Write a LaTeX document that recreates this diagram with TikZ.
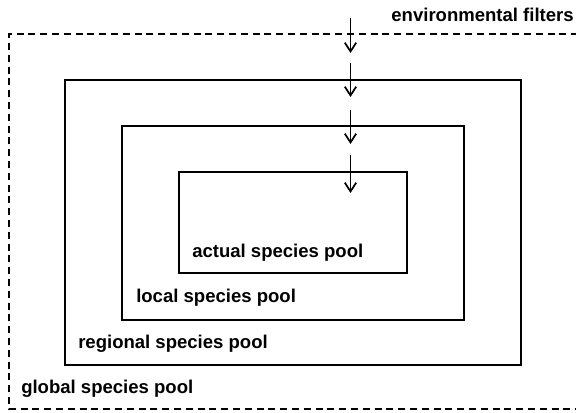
\documentclass[tikz,border=0pt]{standalone}
\usepackage{fontspec}
\setmainfont{Liberation Sans}
\usepackage{tikz}
\usetikzlibrary{positioning,arrows.meta}

\begin{document}
\begin{tikzpicture}[
  x=0.75pt, y=-0.75pt,
  pool/.style={draw, line width=1.2pt},
  lbl/.style={font=\bfseries\fontsize{13.9}{15}\selectfont, anchor=base west, inner sep=0pt},
  filt/.style={-{Straight Barb[length=2.3mm, width=3mm]}, line width=1.3pt},
  glob/.style={draw, line width=1.2pt, dash pattern=on 5.25pt off 3.6pt}
]
\useasboundingbox (0,0) rectangle (576,412);
\clip (0,0) rectangle (576,412);
% nested pools
\draw[glob] (590,34) -- (9,34) -- (9,409) -- (590,409);
\draw[pool] (65,80) rectangle (521,365);
\draw[pool] (122,126) rectangle (464,320);
\draw[pool] (179,172) rectangle (407,273);
% labels
\node[lbl, anchor=base east] (filters) at (574,21) {environmental filters};
\node[lbl] (actual) at (192,257) {actual species pool};
\node[lbl] (local) at (136,302) {local species pool};
\node[lbl] (regional) at (78,348) {regional species pool};
\node[lbl] (global) at (21,393) {global species pool};
% filter arrows
\coordinate (a0) at (350.5,18);  \coordinate (b0) at (350.5,53);
\coordinate (a1) at (350.5,63);  \coordinate (b1) at (350.5,97);
\coordinate (a2) at (350.5,110); \coordinate (b2) at (350.5,144);
\coordinate (a3) at (350.5,155); \coordinate (b3) at (350.5,193);
\foreach \i in {0,...,3}
  \draw[filt] (a\i) -- (b\i);
\end{tikzpicture}
\end{document}
